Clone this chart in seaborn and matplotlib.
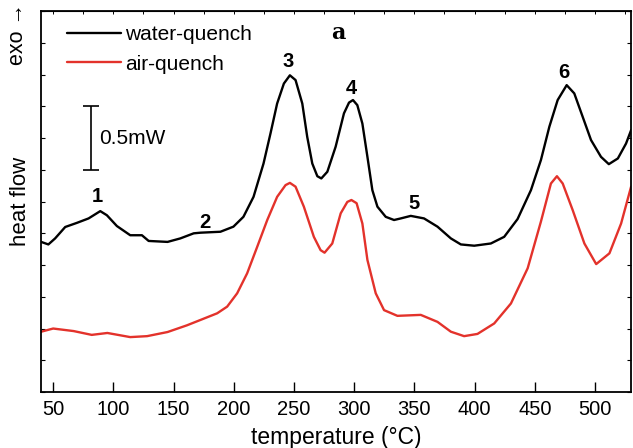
import matplotlib
matplotlib.use("Agg")
import matplotlib.pyplot as plt
import numpy as np
import pandas as pd
import seaborn as sns
from matplotlib.ticker import MultipleLocator, NullFormatter

# water-quench curve (temperature in C, heat flow in arbitrary units, 4 units = 1 mW)
water_t = [40, 46, 51.6, 60, 69.7, 79.4, 89.1, 94.6, 102.9, 114, 123.7, 129.3, 145, 155.6,
           166.7, 172.3, 188.9, 199.7, 208, 216.4, 224.7, 230.5, 236, 241.6, 246.6, 251.3,
           256.9, 261, 265.2, 269.4, 272.7, 277.7, 284.6, 291.5, 295.7, 299, 302.6, 306.8,
           311, 315.1, 319.3, 326.2, 333.1, 338.7, 347, 358, 369.2, 380.3, 388.6, 399.7,
           413.5, 424.6, 435.7, 446.8, 455.1, 462.1, 469, 476.5, 482.8, 489.8, 496.7, 505,
           511.5, 519, 525.8, 530]
water_y = [4.73, 4.65, 4.84, 5.2, 5.33, 5.47, 5.7, 5.57, 5.23, 4.94, 4.94, 4.76, 4.73, 4.84,
           5.0, 5.02, 5.05, 5.21, 5.52, 6.15, 7.2, 8.15, 9.09, 9.72, 9.98, 9.83,
           9.09, 8.04, 7.2, 6.8, 6.73, 6.94, 7.73, 8.78, 9.12, 9.2, 9.04, 8.46,
           7.41, 6.36, 5.84, 5.52, 5.42, 5.47, 5.55, 5.47, 5.21, 4.84, 4.65, 4.61,
           4.68, 4.89, 5.45, 6.36, 7.31, 8.36, 9.2, 9.67, 9.41, 8.67, 7.94, 7.41,
           7.18, 7.36, 7.83, 8.25]

# air-quench curve
air_t = [40, 50, 67, 82, 95, 114, 128, 145, 161, 172.3, 186.2, 194.5, 202.8, 211.1, 219.5,
         227.8, 236, 243, 246.6, 251.3, 258.2, 266.5, 272.1, 275.4, 281.8, 288.8, 294.3,
         297.7, 302, 306.8, 311, 317.9, 324.8, 335.9, 355.3, 369.2, 380.3, 391.3, 402.4,
         416.3, 430.2, 444.1, 455.1, 463.4, 468.4, 473.2, 481.5, 491.2, 501, 512, 521.7, 530]
air_y = [1.9, 2.0, 1.92, 1.8, 1.86, 1.73, 1.76, 1.89, 2.1, 2.27, 2.48, 2.69, 3.11, 3.74, 4.58,
         5.42, 6.15, 6.52, 6.59, 6.47, 5.84, 4.89, 4.47, 4.39, 4.68, 5.63, 5.99,
         6.05, 5.95, 5.31, 4.16, 3.11, 2.58, 2.4, 2.43, 2.21, 1.9, 1.76, 1.83,
         2.16, 2.79, 3.9, 5.37, 6.57, 6.8, 6.57, 5.73, 4.68, 4.03, 4.37, 5.31, 6.47]

series_names = ["water-quench", "air-quench"]
series_colors = ["black", "#e3322b"]

peak_labels = ["1", "2", "3", "4", "5", "6"]
peak_t = [87, 176, 245, 298, 350, 474]
peak_y = [6.17, 5.35, 10.4, 9.57, 5.95, 10.08]

x_ticks = [50, 100, 150, 200, 250, 300, 350, 400, 450, 500]

df = pd.concat([
    pd.DataFrame({"temperature": water_t, "heat": water_y, "sample": series_names[0]}),
    pd.DataFrame({"temperature": air_t, "heat": air_y, "sample": series_names[1]}),
])

sns.set_style("ticks")
plt.rcParams["font.family"] = ["Liberation Sans", "DejaVu Sans"]
plt.rcParams.update({"text.color": "black", "axes.labelcolor": "black",
                     "xtick.color": "black", "ytick.color": "black",
                     "axes.edgecolor": "black"})

fig = plt.figure(figsize=(6.33, 4.48), dpi=100)
ax = fig.add_axes([0.065, 0.125, 0.932, 0.85])

sns.lineplot(data=df, x="temperature", y="heat", hue="sample", estimator=None,
             palette=dict(zip(series_names, series_colors)), linewidth=1.7, ax=ax)

ax.set_xlim(40, 530)
ax.set_ylim(0, 12)
ax.set_xticks(x_ticks)
ax.yaxis.set_major_locator(MultipleLocator(1))
ax.yaxis.set_major_formatter(NullFormatter())
ax.tick_params(axis="x", direction="in", length=7, width=1, labelsize=14.5, pad=6)
ax.tick_params(axis="y", direction="in", length=3, width=0.8, left=True, right=True)
for s in ax.spines.values():
    s.set_linewidth(1.3)

top = ax.secondary_xaxis("top")
top.xaxis.set_major_locator(MultipleLocator(25))
top.tick_params(direction="in", length=2.5, width=0.7, labeltop=False)

ax.set_xlabel("temperature (°C)", fontsize=16.5, labelpad=5)
ax.set_ylabel("")

fig.text(0.027, 0.925, "exo →", rotation=90, fontsize=15.5, ha="center", va="center")
fig.text(0.032, 0.55, "heat flow", rotation=90, fontsize=16, ha="center", va="center")

leg = ax.legend(loc="upper left", frameon=False, fontsize=15, handlelength=2.6,
                handletextpad=0.2, labelspacing=0.5, borderaxespad=0.0,
                bbox_to_anchor=(0.029, 0.985))
for line in leg.get_lines():
    line.set_linewidth(1.7)

# scale bar 0.5 mW = 2 units
ax.errorbar([81], [8.0], yerr=[[1.0], [1.0]], color="black", capsize=6, elinewidth=1.2, capthick=1.2)
ax.text(88.5, 8.0, "0.5mW", fontsize=15, ha="left", va="center")

for lab, t, y in zip(peak_labels, peak_t, peak_y):
    ax.text(t, y, lab, fontsize=14.5, fontweight="bold", ha="center", va="center")

ax.text(287, 11.3, "a", fontsize=16, fontweight="bold", family="DejaVu Serif", ha="center", va="center")

fig.savefig("out.png", dpi=100)
